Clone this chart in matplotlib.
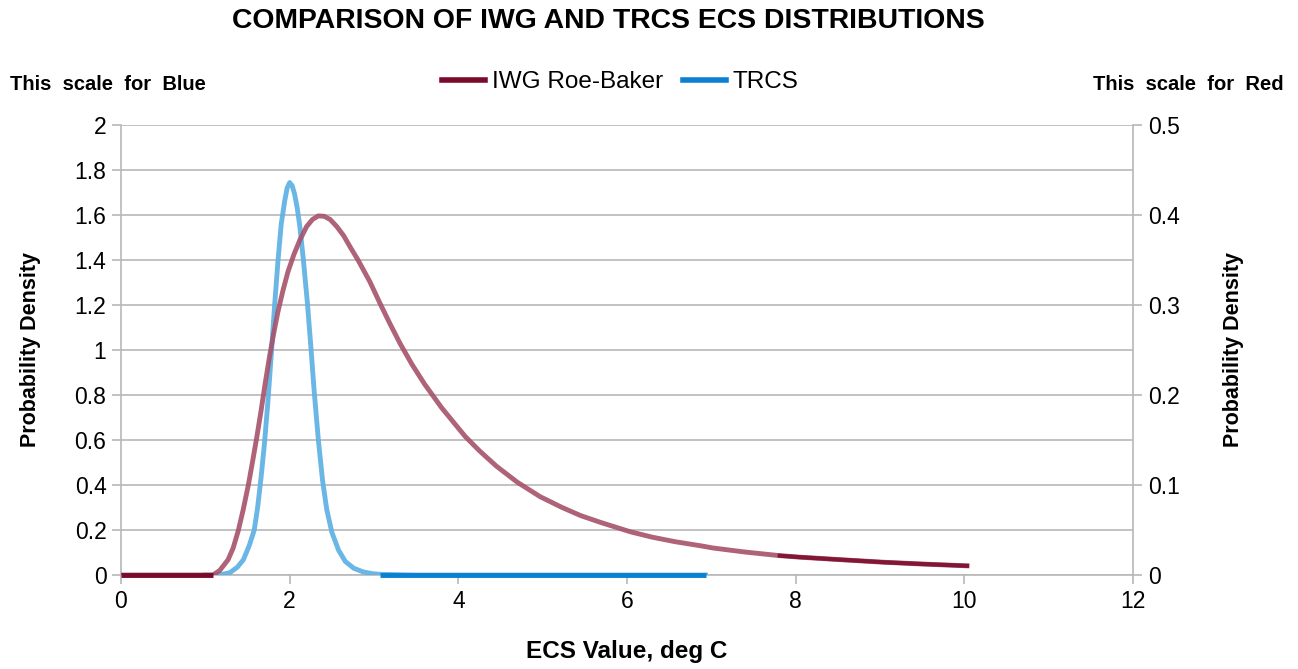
import matplotlib
matplotlib.use("Agg")
import matplotlib.pyplot as plt
from matplotlib.lines import Line2D
from matplotlib import font_manager

plt.rcParams['font.family'] = ['Liberation Sans', 'DejaVu Sans']

# IWG Roe-Baker (right axis scale)
red_x = [0.0, 0.2, 0.4, 0.6, 0.8, 1.0, 1.09, 1.17, 1.27, 1.33, 1.39, 1.45, 1.51, 1.56, 1.61, 1.66,
         1.71, 1.76, 1.81, 1.86, 1.92, 1.98, 2.05, 2.12, 2.20, 2.27, 2.34, 2.41, 2.48, 2.56, 2.64,
         2.72, 2.81, 2.95, 3.07, 3.19, 3.31, 3.45, 3.60, 3.80, 4.08, 4.25, 4.45, 4.70, 4.97, 5.23,
         5.45, 5.70, 6.04, 6.30, 6.57, 6.87, 7.02, 7.40, 7.81, 8.05, 8.50, 9.04, 9.50, 10.03]
red_y = [0.0, 0.0, 0.0, 0.0, 0.0, 0.0, 0.0, 0.005, 0.017, 0.030, 0.049, 0.073, 0.100, 0.126, 0.153, 0.182,
         0.213, 0.242, 0.268, 0.292, 0.316, 0.337, 0.356, 0.372, 0.387, 0.395, 0.399, 0.3985, 0.395, 0.387, 0.377,
         0.364, 0.350, 0.326, 0.302, 0.279, 0.257, 0.234, 0.212, 0.186, 0.154, 0.138, 0.121, 0.103, 0.087, 0.075,
         0.066, 0.058, 0.048, 0.042, 0.037, 0.0325, 0.030, 0.0255, 0.0215, 0.0198, 0.0172, 0.0142, 0.0122, 0.0102]

# TRCS (left axis scale)
blue_x = [1.0, 1.1, 1.2, 1.29, 1.38, 1.45, 1.52, 1.58, 1.62, 1.66, 1.70, 1.74, 1.78, 1.82, 1.86,
          1.90, 1.94, 1.97, 2.00, 2.03, 2.06, 2.09, 2.12, 2.16, 2.21, 2.25, 2.29, 2.34, 2.39, 2.44,
          2.50, 2.58, 2.66, 2.76, 2.87, 2.98, 3.07, 3.5, 4.0, 4.5, 5.0, 5.5, 6.0, 6.5, 6.93]
blue_y = [0.0, 0.0, 0.003, 0.01, 0.035, 0.067, 0.13, 0.2, 0.3, 0.43, 0.58, 0.76, 0.97, 1.19, 1.39,
          1.56, 1.66, 1.72, 1.744, 1.73, 1.69, 1.63, 1.55, 1.41, 1.21, 1.02, 0.82, 0.60, 0.42, 0.29,
          0.19, 0.11, 0.06, 0.03, 0.014, 0.006, 0.003, 0.0, 0.0, 0.0, 0.0, 0.0, 0.0, 0.0, 0.0]

x_ticks = [0, 2, 4, 6, 8, 10, 12]
left_ticks = [0, 0.2, 0.4, 0.6, 0.8, 1, 1.2, 1.4, 1.6, 1.8, 2]
right_ticks = [0, 0.1, 0.2, 0.3, 0.4, 0.5]

RED = '#7a0a2a'
RED_LIGHT = '#a5526a'
BLUE = '#0a80d0'
BLUE_LIGHT = '#62b2e4'
GRID = '#b8b8b8'

try:
    font_manager.findfont(font_manager.FontProperties(family='Liberation Sans Narrow'),
                          fallback_to_default=False)
    note_family, note_size = ['Liberation Sans Narrow', 'Liberation Sans'], 17
except Exception:
    note_family, note_size = ['Liberation Sans', 'DejaVu Sans'], 14.5

fig = plt.figure(figsize=(12.98, 6.69), dpi=100)
ax = fig.add_axes([0.0932, 0.1405, 0.7798, 0.6727])
ax2 = ax.twinx()

ax.set_xlim(0, 12)
ax.set_ylim(0, 2)
ax2.set_ylim(0, 0.5)
ax.set_xticks(x_ticks)
ax.set_xticklabels([str(t) for t in x_ticks])
ax.set_yticks(left_ticks)
ax.set_yticklabels(['0', '0.2', '0.4', '0.6', '0.8', '1', '1.2', '1.4', '1.6', '1.8', '2'])
ax2.set_yticks(right_ticks)
ax2.set_yticklabels(['0', '0.1', '0.2', '0.3', '0.4', '0.5'])

ax.grid(axis='y', color=GRID, linewidth=1.2)
ax.set_axisbelow(True)
for a in (ax, ax2):
    for s in a.spines.values():
        s.set_color(GRID)
        s.set_linewidth(1.2)
    a.tick_params(colors=GRID, labelcolor='black', labelsize=16.5, length=6.5, width=1.2, pad=4)
ax.spines['top'].set_visible(False)
ax.spines['right'].set_visible(False)
for k in ('top', 'bottom', 'left'):
    ax2.spines[k].set_visible(False)

# curves
ax.plot(blue_x, blue_y, color=BLUE_LIGHT, linewidth=3.5, alpha=0.95, zorder=3)
zx = [x for x in blue_x if x >= 3.07]
ax.plot(zx, [0] * len(zx), color=BLUE, linewidth=3.5, zorder=4, clip_on=False,
        solid_capstyle='butt')
ax2.plot(red_x, red_y, color=RED_LIGHT, linewidth=3.5, alpha=0.9, zorder=4)
ax2.plot(red_x[:7], red_y[:7], color=RED, linewidth=3.5, zorder=5, clip_on=False,
         solid_capstyle='butt')
ax2.plot(red_x[-6:], red_y[-6:], color=RED, linewidth=3.0, alpha=0.85, zorder=5)

ax.set_ylabel('Probability Density', fontsize=15.5, fontweight='bold')
ax.yaxis.set_label_coords(-0.079, 0.5)
ax2.set_ylabel('Probability Density', fontsize=15.5, fontweight='bold')
ax2.yaxis.set_label_coords(1.089, 0.5)
ax.set_xlabel('ECS Value, deg C', fontsize=17.5, fontweight='bold')
ax.xaxis.set_label_coords(0.5, -0.171)
ax.xaxis.label.set_va('center')

fig.text(0.469, 0.968, 'COMPARISON OF IWG AND TRCS ECS DISTRIBUTIONS', ha='center', va='center',
         fontsize=20.4, fontweight='bold')
fig.text(0.008, 0.873, 'This  scale  for  Blue', ha='left', va='center', fontsize=note_size,
         fontweight='bold', family=note_family)
fig.text(0.989, 0.873, 'This  scale  for  Red', ha='right', va='center', fontsize=note_size,
         fontweight='bold', family=note_family)

handles = [Line2D([], [], color=RED, linewidth=4), Line2D([], [], color=BLUE, linewidth=4)]
fig.legend(handles, ['IWG Roe-Baker', 'TRCS'], loc='center', bbox_to_anchor=(0.4777, 0.877), ncol=2,
           frameon=False, fontsize=17.5, handlelength=1.77, columnspacing=0.82, handletextpad=0.29)

fig.savefig('out.png', dpi=100)
